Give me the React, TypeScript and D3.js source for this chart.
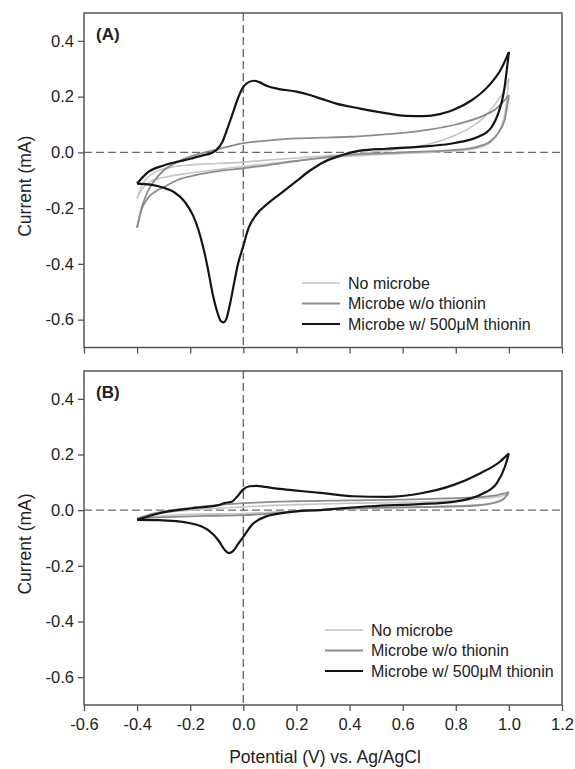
import React, { useEffect, useRef } from 'react';
import * as d3 from 'd3';

const W = 575;
const H = 769;

const xTicks = [-0.6, -0.4, -0.2, 0.0, 0.2, 0.4, 0.6, 0.8, 1.0, 1.2];
const yTicks = [-0.6, -0.4, -0.2, 0.0, 0.2, 0.4];

const legendLabels = ['No microbe', 'Microbe w/o thionin', 'Microbe w/ 500\u03bcM thionin'];
const lineColors = ['#c6c6c6', '#8c8c8c', '#151515'];
const lineWidths = [1.6, 1.8, 2.2];

// Panel A: [potential V, current mA], forward and reverse sweeps (ascending V)
const aNoMicrobeFwd = [
  [-0.4, -0.165], [-0.385, -0.125], [-0.36, -0.09], [-0.33, -0.07], [-0.28, -0.055], [-0.2, -0.045],
  [-0.1, -0.04], [0.0, -0.035], [0.1, -0.027], [0.2, -0.02], [0.3, -0.013], [0.4, -0.007],
  [0.5, 0.003], [0.6, 0.014], [0.7, 0.03], [0.8, 0.062], [0.85, 0.086], [0.9, 0.12],
  [0.95, 0.175], [0.98, 0.22], [1.0, 0.265]
];
const aNoMicrobeRev = [
  [-0.4, -0.165], [-0.38, -0.13], [-0.35, -0.105], [-0.3, -0.09], [-0.2, -0.074], [-0.1, -0.062],
  [0.0, -0.05], [0.1, -0.04], [0.2, -0.03], [0.3, -0.021], [0.4, -0.014], [0.5, -0.008],
  [0.6, -0.004], [0.7, 0.0], [0.8, 0.005], [0.88, 0.015], [0.93, 0.035], [0.96, 0.07],
  [0.985, 0.14], [1.0, 0.265]
];
const aNoThioninFwd = [
  [-0.4, -0.27], [-0.39, -0.225], [-0.38, -0.19], [-0.36, -0.14], [-0.33, -0.095], [-0.3, -0.065],
  [-0.25, -0.035], [-0.2, -0.015], [-0.1, 0.01], [0.0, 0.033], [0.1, 0.043], [0.2, 0.05],
  [0.3, 0.053], [0.4, 0.056], [0.5, 0.062], [0.6, 0.07], [0.7, 0.082], [0.8, 0.1],
  [0.9, 0.13], [0.95, 0.155], [1.0, 0.205]
];
const aNoThioninRev = [
  [-0.4, -0.27], [-0.385, -0.21], [-0.36, -0.165], [-0.33, -0.14], [-0.3, -0.125], [-0.25, -0.1],
  [-0.2, -0.086], [-0.1, -0.068], [0.0, -0.057], [0.1, -0.045], [0.2, -0.031], [0.3, -0.019],
  [0.4, -0.009], [0.6, 0.0], [0.8, 0.009], [0.88, 0.02], [0.93, 0.04], [0.96, 0.07],
  [0.985, 0.12], [1.0, 0.205]
];
const aThioninFwd = [
  [-0.4, -0.112], [-0.36, -0.072], [-0.3, -0.047], [-0.25, -0.034], [-0.2, -0.023], [-0.15, -0.01],
  [-0.12, -0.002], [-0.1, 0.01], [-0.08, 0.035], [-0.06, 0.085], [-0.04, 0.14], [-0.02, 0.195],
  [0.0, 0.235], [0.02, 0.252], [0.04, 0.257], [0.06, 0.252], [0.09, 0.238], [0.13, 0.228],
  [0.2, 0.218], [0.25, 0.206], [0.3, 0.19], [0.35, 0.175], [0.44, 0.157], [0.54, 0.14],
  [0.61, 0.131], [0.68, 0.13], [0.74, 0.137], [0.79, 0.152], [0.86, 0.187], [0.92, 0.235],
  [0.97, 0.298], [1.0, 0.36]
];
const aThioninRev = [
  [-0.4, -0.112], [-0.35, -0.116], [-0.3, -0.127], [-0.26, -0.143], [-0.22, -0.178], [-0.19, -0.225],
  [-0.17, -0.275], [-0.15, -0.345], [-0.135, -0.41], [-0.115, -0.51], [-0.1, -0.567], [-0.085, -0.605],
  [-0.075, -0.61], [-0.065, -0.6], [-0.05, -0.543], [-0.035, -0.47], [-0.02, -0.4], [0.0, -0.335],
  [0.02, -0.27], [0.05, -0.222], [0.09, -0.185], [0.14, -0.148], [0.2, -0.103], [0.25, -0.066],
  [0.3, -0.036], [0.35, -0.017], [0.44, 0.006], [0.54, 0.013], [0.66, 0.02], [0.78, 0.031],
  [0.84, 0.042], [0.885, 0.056], [0.935, 0.091], [0.96, 0.14], [0.98, 0.211], [1.0, 0.36]
];

// Panel B
const bNoMicrobeFwd = [
  [-0.4, -0.03], [-0.3, -0.01], [-0.2, 0.0], [0.0, 0.012], [0.2, 0.02], [0.4, 0.025],
  [0.6, 0.028], [0.8, 0.035], [0.9, 0.042], [0.97, 0.05], [1.0, 0.058]
];
const bNoMicrobeRev = [
  [-0.4, -0.03], [-0.3, -0.02], [-0.2, -0.015], [0.0, -0.012], [0.1, -0.008], [0.3, 0.002],
  [0.5, 0.008], [0.7, 0.012], [0.9, 0.02], [0.97, 0.035], [1.0, 0.058]
];
const bNoThioninFwd = [
  [-0.4, -0.03], [-0.35, -0.015], [-0.3, -0.005], [-0.2, 0.008], [-0.1, 0.018], [0.0, 0.025],
  [0.2, 0.032], [0.4, 0.035], [0.6, 0.038], [0.8, 0.043], [0.9, 0.048], [0.96, 0.055], [1.0, 0.065]
];
const bNoThioninRev = [
  [-0.4, -0.03], [-0.3, -0.025], [-0.2, -0.022], [-0.1, -0.02], [0.0, -0.018], [0.2, -0.005],
  [0.4, 0.006], [0.6, 0.01], [0.85, 0.015], [0.94, 0.025], [0.98, 0.04], [1.0, 0.065]
];
const bThioninFwd = [
  [-0.4, -0.035], [-0.32, -0.012], [-0.2, 0.006], [-0.094, 0.018], [-0.069, 0.026], [-0.044, 0.03],
  [-0.019, 0.054], [0.0, 0.075], [0.025, 0.086], [0.05, 0.087], [0.081, 0.084], [0.119, 0.078],
  [0.182, 0.072], [0.3, 0.061], [0.414, 0.05], [0.54, 0.048], [0.665, 0.06], [0.79, 0.09],
  [0.891, 0.132], [0.966, 0.174], [1.0, 0.204]
];
const bThioninRev = [
  [-0.4, -0.035], [-0.32, -0.036], [-0.195, -0.048], [-0.132, -0.072], [-0.094, -0.108], [-0.069, -0.144],
  [-0.055, -0.154], [-0.04, -0.148], [-0.02, -0.122], [0.0, -0.096], [0.031, -0.054], [0.081, -0.024],
  [0.182, -0.006], [0.3, 0.001], [0.477, 0.014], [0.665, 0.022], [0.79, 0.03], [0.903, 0.06],
  [0.954, 0.096], [0.985, 0.156], [1.0, 0.204]
];

const panels = [
  {
    label: '(A)', top: 13, bottom: 347.5, showXLabels: false, legendX: 302, legendY: 283,
    curves: [[aNoMicrobeFwd, aNoMicrobeRev], [aNoThioninFwd, aNoThioninRev], [aThioninFwd, aThioninRev]]
  },
  {
    label: '(B)', top: 371, bottom: 705, showXLabels: true, legendX: 325, legendY: 630,
    curves: [[bNoMicrobeFwd, bNoMicrobeRev], [bNoThioninFwd, bNoThioninRev], [bThioninFwd, bThioninRev]]
  }
];

const left = 84;
const right = 562;
const font = '"Liberation Sans", Arial, sans-serif';
const fmt = (v: number) => v.toFixed(1);

export default function App() {
  const ref = useRef<SVGSVGElement>(null);

  useEffect(() => {
    const svg = d3.select(ref.current);
    svg.selectAll('*').remove();

    const x = d3.scaleLinear().domain([-0.6, 1.2]).range([left, right]);

    panels.forEach((p) => {
      const y = d3.scaleLinear().domain([-0.7, 0.5]).range([p.bottom, p.top]);
      const g = svg.append('g');

      // zero lines
      g.append('line')
        .attr('x1', left).attr('x2', right)
        .attr('y1', y(0)).attr('y2', y(0))
        .attr('stroke', '#6a6a6a').attr('stroke-width', 1.4)
        .attr('stroke-dasharray', '8,4');
      g.append('line')
        .attr('x1', x(0)).attr('x2', x(0))
        .attr('y1', p.top).attr('y2', p.bottom)
        .attr('stroke', '#6a6a6a').attr('stroke-width', 1.4)
        .attr('stroke-dasharray', '8,4');

      const line = d3.line<number[]>()
        .x((d) => x(d[0]))
        .y((d) => y(d[1]))
        .curve(d3.curveMonotoneX);

      p.curves.forEach((branches, i) => {
        branches.forEach((b) => {
          g.append('path')
            .attr('d', line(b))
            .attr('fill', 'none')
            .attr('stroke', lineColors[i])
            .attr('stroke-width', lineWidths[i])
            .attr('stroke-linejoin', 'round');
        });
      });

      // axes
      const axisX = d3.axisBottom(x).tickValues(xTicks).tickSize(6).tickPadding(7)
        .tickFormat((d) => (p.showXLabels ? fmt(d as number) : ''));
      const gx = g.append('g').attr('transform', `translate(0,${p.bottom})`).call(axisX);
      const axisY = d3.axisLeft(y).tickValues(yTicks).tickSize(6).tickPadding(4)
        .tickFormat((d) => fmt(d as number));
      const gy = g.append('g').attr('transform', `translate(${left},0)`).call(axisY);

      [gx, gy].forEach((a) => {
        a.select('.domain').remove();
        a.selectAll('line').attr('stroke', '#555').attr('stroke-width', 1.3);
        a.selectAll('text')
          .attr('font-family', font)
          .attr('font-size', 16.5)
          .attr('fill', '#222');
      });

      // frame
      g.append('rect')
        .attr('x', left).attr('y', p.top)
        .attr('width', right - left).attr('height', p.bottom - p.top)
        .attr('fill', 'none').attr('stroke', '#555').attr('stroke-width', 1.5);

      g.append('text')
        .attr('x', 96).attr('y', p.top + 27)
        .attr('font-family', font).attr('font-size', 17).attr('font-weight', 'bold')
        .attr('fill', '#222')
        .text(p.label);

      g.append('text')
        .attr('transform', `translate(31,${(p.top + p.bottom) / 2 + 6}) rotate(-90)`)
        .attr('text-anchor', 'middle')
        .attr('font-family', font).attr('font-size', 17.5)
        .attr('fill', '#222')
        .text('Current (mA)');

      // legend
      legendLabels.forEach((name, i) => {
        const ly = p.legendY + i * 20.5;
        g.append('line')
          .attr('x1', p.legendX).attr('x2', p.legendX + 38)
          .attr('y1', ly).attr('y2', ly)
          .attr('stroke', lineColors[i]).attr('stroke-width', lineWidths[i]);
        g.append('text')
          .attr('x', p.legendX + 46).attr('y', ly)
          .attr('dy', '0.35em')
          .attr('font-family', font).attr('font-size', 16)
          .attr('fill', '#222')
          .text(name);
      });
    });

    svg.append('text')
      .attr('x', (left + right) / 2 + 2).attr('y', 763)
      .attr('text-anchor', 'middle')
      .attr('font-family', font).attr('font-size', 17.5)
      .attr('fill', '#222')
      .text('Potential (V) vs. Ag/AgCl');
  }, []);

  return (
    <svg
      ref={ref}
      width={W}
      height={H}
      style={{ position: 'absolute', left: 0, top: 0, background: '#fff' }}
    />
  );
}
